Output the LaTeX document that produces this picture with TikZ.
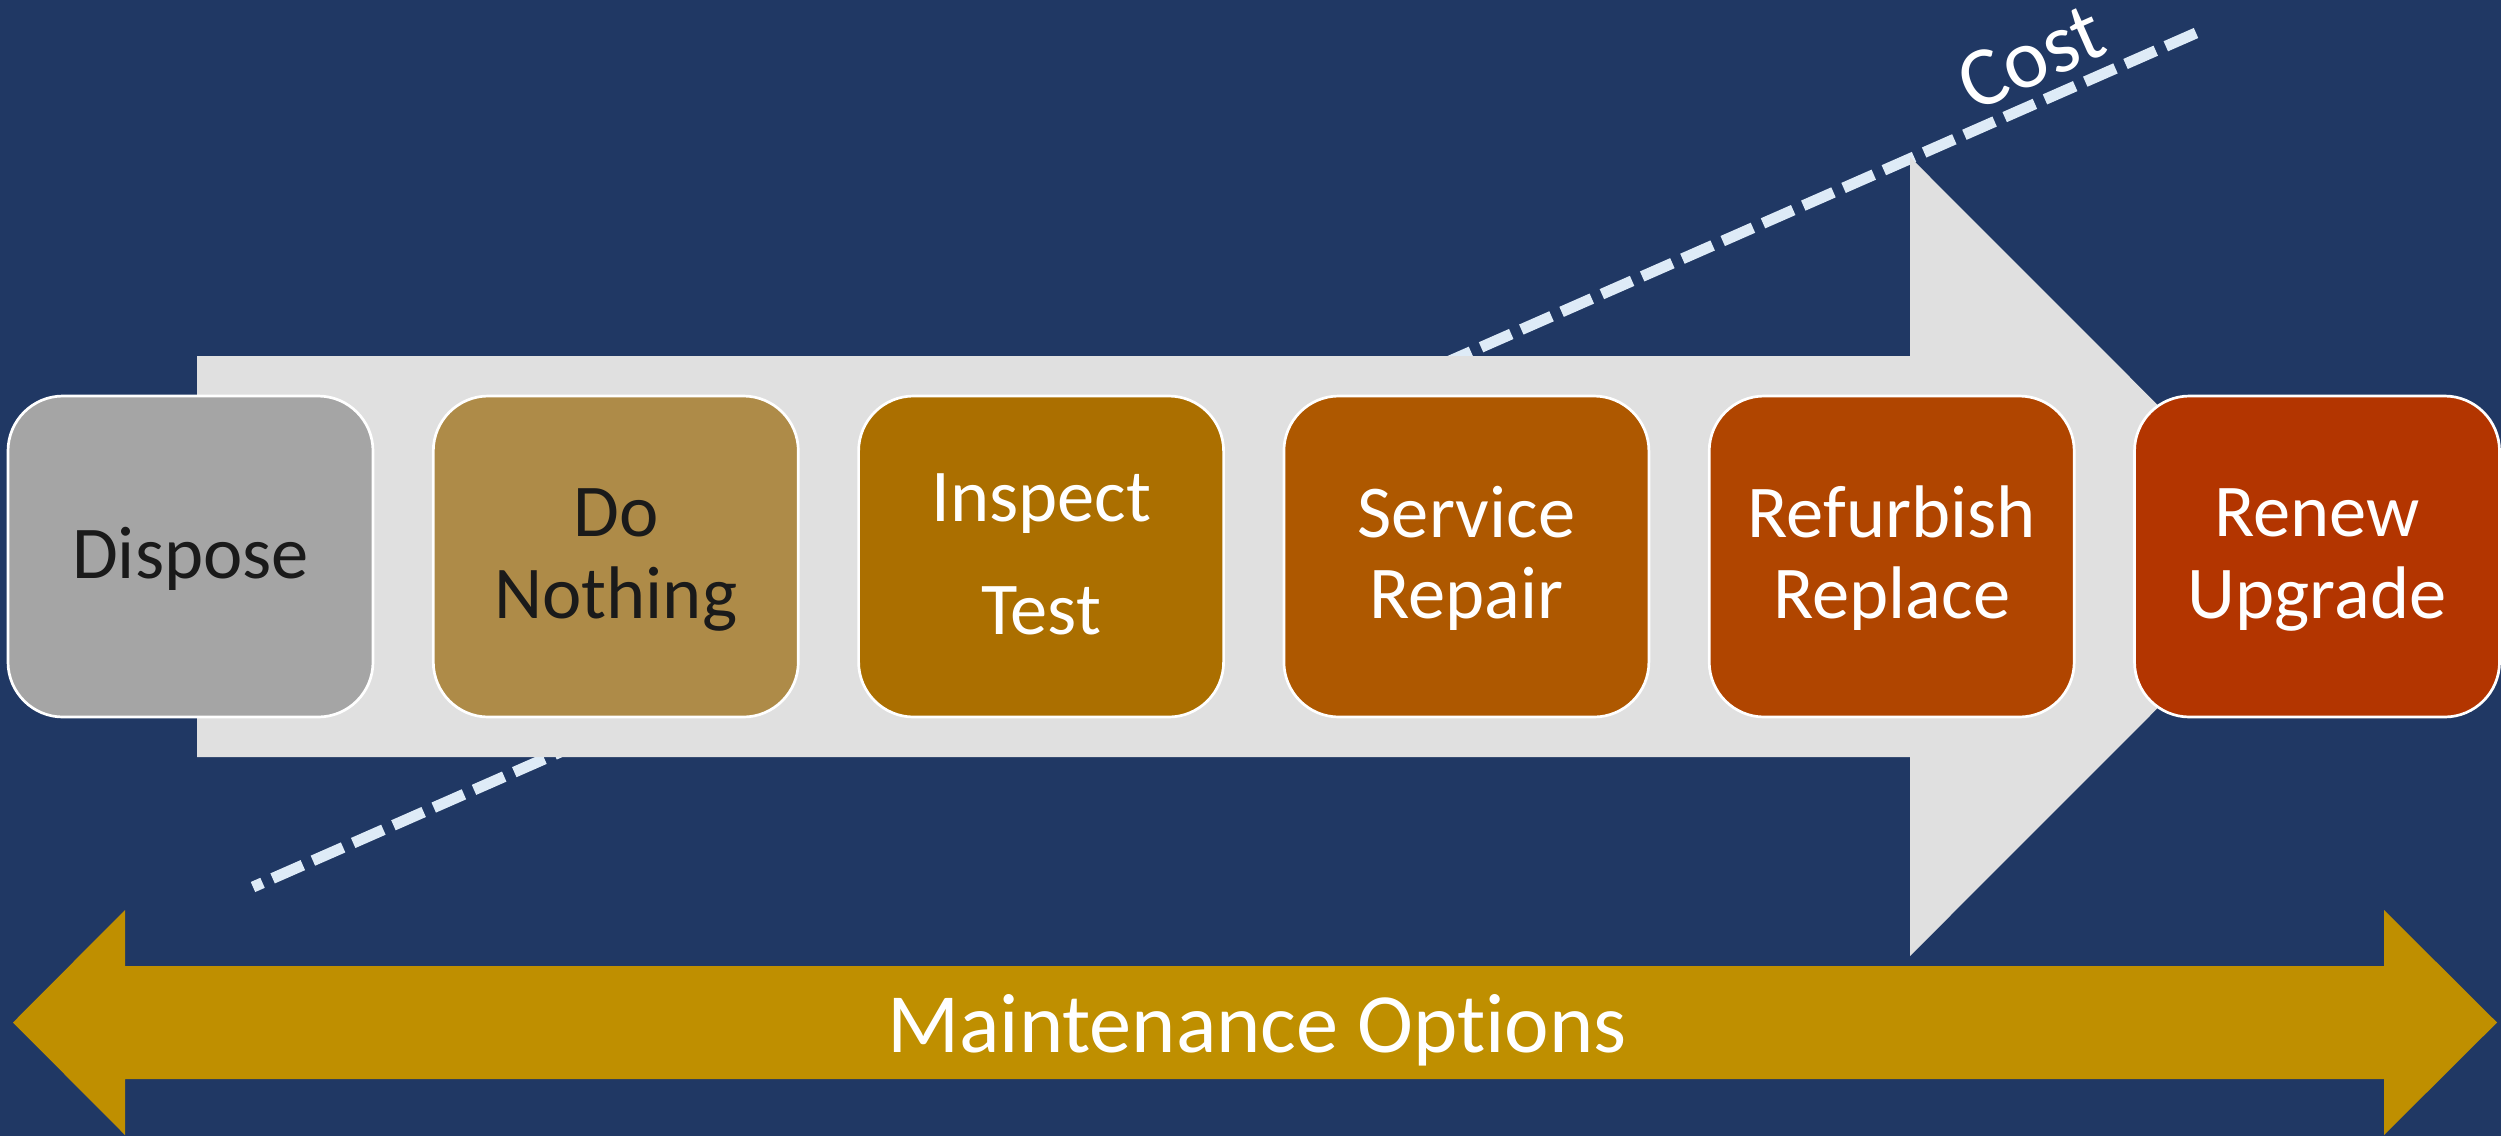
\documentclass[tikz,border=0pt]{standalone}
\usepackage{fontspec}
\setmainfont[Ligatures={NoCommon,NoContextual}]{Carlito}
\definecolor{bg}{HTML}{203864}
\definecolor{arrowgrey}{HTML}{E0E0E0}
\definecolor{gold}{HTML}{BF8F00}
\definecolor{dashc}{HTML}{DEEBF7}
\definecolor{cA}{HTML}{A5A5A5}
\definecolor{cB}{HTML}{AE8B48}
\definecolor{cC}{HTML}{AB6F00}
\definecolor{cD}{HTML}{AE5800}
\definecolor{cE}{HTML}{B04500}
\definecolor{cF}{HTML}{B33500}
\definecolor{darktext}{HTML}{1A1A1A}
\begin{document}
\begin{tikzpicture}[x=0.1mm,y=-0.1mm,
  optbox/.style={rectangle, rounded corners=5.5mm, draw=white, line width=0.27mm,
    minimum width=36.5mm, minimum height=32.1mm, inner sep=0pt},
  boxtext/.style={anchor=base, inner sep=0pt, font=\fontsize{21.2}{23.3}\selectfont},
  costline/.style={draw=dashc, line width=1.1mm, dash pattern=on 3.3mm off 1.1mm},
  bigtext/.style={inner sep=0pt, text=white, font=\fontsize{24}{28}\selectfont}]
\fill[bg] (0,0) rectangle (2501,1136);
\useasboundingbox (0,0) rectangle (2501,1136);

% cost line (behind the grey arrow)
\coordinate (ctop) at (2196,33);
\coordinate (cbot) at (253,887);
\draw[costline] (ctop) -- (cbot);
\node[bigtext, rotate=23.8] (cost) at (2031,58) {Cost};

% big grey arrow
\fill[arrowgrey] (197,356) -- (1910,356) -- (1910,157) -- (2309,556.5)
  -- (1910,956) -- (1910,757) -- (197,757) -- cycle;

% gold double arrow
\fill[gold] (13,1022.5) -- (125,910) -- (125,966) -- (2384,966) -- (2384,910)
  -- (2497,1022.5) -- (2384,1135) -- (2384,1079) -- (125,1079) -- (125,1135) -- cycle;
\node[bigtext, anchor=base] (maint) at (1257,1052) {Maintenance Opt\kern0pt ions};

% option boxes
\node[optbox, fill=cA] (b1) at (190.5,556.5) {};
\node[optbox, fill=cB] (b2) at (615.8,556.5) {};
\node[optbox, fill=cC] (b3) at (1041.1,556.5) {};
\node[optbox, fill=cD] (b4) at (1466.4,556.5) {};
\node[optbox, fill=cE] (b5) at (1891.7,556.5) {};
\node[optbox, fill=cF] (b6) at (2317,556.5) {};

\node[boxtext, text=darktext] (t1) at (190.5,578) {Dispose};
\node[boxtext, text=darktext] (t2a) at (615.8,536) {Do};
\node[boxtext, text=darktext] (t2b) at (615.8,618) {Nothing};
\node[boxtext, text=white] (t3a) at (1041.1,521) {Inspect};
\node[boxtext, text=white] (t3b) at (1041.1,634) {Test};
\node[boxtext, text=white] (t4a) at (1466.4,537) {Service};
\node[boxtext, text=white] (t4b) at (1466.4,618) {Repair};
\node[boxtext, text=white] (t5a) at (1891.7,537) {Refurbish};
\node[boxtext, text=white] (t5b) at (1891.7,618) {Replace};
\node[boxtext, text=white] (t6a) at (2317,536) {Renew};
\node[boxtext, text=white] (t6b) at (2317,618) {Upgrade};
\end{tikzpicture}
\end{document}
